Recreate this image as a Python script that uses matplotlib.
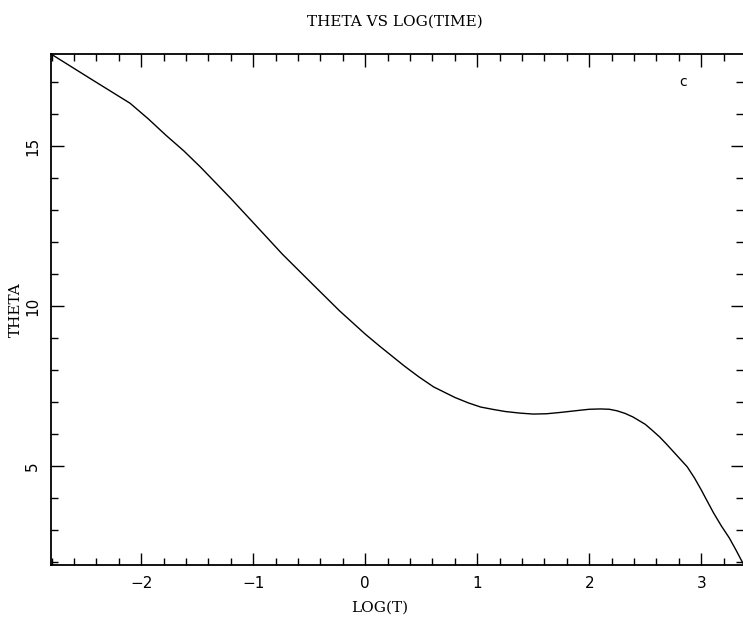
import matplotlib
matplotlib.use('Agg')
from matplotlib import pyplot as plt
from matplotlib.ticker import MultipleLocator

log_t = [-2.806, -2.45, -2.1, -1.94, -1.78, -1.62, -1.47, -1.2, -0.98, -0.74,
         -0.49, -0.23, 0.0, 0.13, 0.35, 0.48, 0.61, 0.8, 0.92, 1.03, 1.15,
         1.25, 1.38, 1.5, 1.62, 1.74, 1.92, 2.0, 2.1, 2.18, 2.25, 2.32, 2.39,
         2.5, 2.56, 2.63, 2.69, 2.75, 2.81, 2.875, 2.94, 3.0, 3.05, 3.11,
         3.18, 3.25, 3.31, 3.373]
theta = [17.88, 17.1, 16.34, 15.86, 15.34, 14.85, 14.34, 13.36, 12.53, 11.62,
         10.75, 9.85, 9.12, 8.74, 8.12, 7.78, 7.47, 7.14, 6.97, 6.84, 6.76,
         6.70, 6.65, 6.62, 6.63, 6.67, 6.74, 6.77, 6.78, 6.77, 6.72, 6.64,
         6.53, 6.3, 6.12, 5.9, 5.68, 5.45, 5.22, 4.97, 4.62, 4.25, 3.92, 3.53,
         3.12, 2.75, 2.37, 1.95]

fig = plt.figure(figsize=(7.43, 6.25), dpi=100)
ax = fig.add_axes([51 / 743, 1 - 565 / 625, 1 - 51 / 743, (565 - 54) / 625])

ax.plot(log_t, theta, color='black', linewidth=1.0)
ax.set_xlim(-2.806, 3.373)
ax.set_ylim(1.9, 17.88)

ax.xaxis.set_major_locator(MultipleLocator(1))
ax.xaxis.set_minor_locator(MultipleLocator(0.2))
ax.yaxis.set_major_locator(MultipleLocator(5))
ax.yaxis.set_minor_locator(MultipleLocator(1))

ax.tick_params(which='both', direction='in', top=True, right=True,
               width=1.0, labelsize=11)
ax.tick_params(which='major', length=9)
ax.tick_params(which='minor', length=5)
ax.tick_params(axis='x', pad=8)
ax.tick_params(axis='y', pad=8)
for lab in ax.get_yticklabels():
    lab.set_rotation(90)
    lab.set_va('center')

for s in ['left', 'bottom', 'top']:
    ax.spines[s].set_linewidth(1.3)
ax.spines['right'].set_visible(False)

ax.set_xlabel('LOG(T)', family='DejaVu Serif', fontsize=11)
ax.xaxis.set_label_coords((380 - 51) / 692, -(608 - 565) / 511)
ax.set_ylabel('THETA', family='DejaVu Serif', fontsize=11)
ax.yaxis.set_label_coords(-(51 - 16) / 692, (565 - 310) / 511)
ax.xaxis.label.set_va('center')
ax.yaxis.label.set_va('center')
fig.text(0.532, 1 - 22 / 625, 'THETA VS LOG(TIME)', family='DejaVu Serif',
         fontsize=11, ha='center', va='center')
fig.text(683 / 743, 1 - 82 / 625, 'c', fontsize=10, ha='center', va='center')

fig.savefig('out.png', dpi=100)
